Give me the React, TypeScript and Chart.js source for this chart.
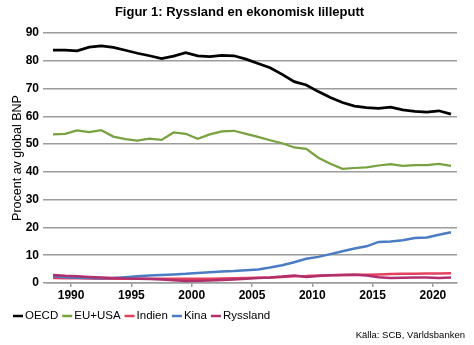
import React, { useEffect, useRef } from "react";
import { Chart, registerables } from "chart.js";

Chart.register(...registerables);

const FONT = "'Liberation Sans', Arial, Helvetica, sans-serif";

const TITLE = "Figur 1: Ryssland en ekonomisk lilleputt";
const Y_TITLE = "Procent av global BNP";
const SOURCE = "Källa: SCB, Världsbanken";

const years = [
  1988, 1989, 1990, 1991, 1992, 1993, 1994, 1995, 1996, 1997, 1998, 1999,
  2000, 2001, 2002, 2003, 2004, 2005, 2006, 2007, 2008, 2009, 2010, 2011,
  2012, 2013, 2014, 2015, 2016, 2017, 2018, 2019, 2020, 2021,
];

const oecd = [
  83.8, 83.8, 83.6, 84.9, 85.4, 84.8, 83.8, 82.7, 81.8, 80.8, 81.7, 82.9,
  81.8, 81.5, 81.9, 81.8, 80.6, 79.0, 77.5, 75.1, 72.5, 71.3, 68.9, 66.8,
  65.0, 63.7, 63.1, 62.9, 63.3, 62.3, 61.8, 61.5, 62.0, 60.8,
];

const euUsa = [
  53.5, 53.7, 54.9, 54.3, 55.0, 52.7, 51.8, 51.3, 52.0, 51.5, 54.2, 53.7,
  51.9, 53.5, 54.6, 54.8, 53.7, 52.6, 51.4, 50.3, 48.8, 48.3, 45.1, 42.9,
  41.1, 41.4, 41.6, 42.3, 42.8, 42.2, 42.4, 42.4, 42.9, 42.2,
];

const indien = [
  1.8, 1.7, 1.7, 1.6, 1.5, 1.5, 1.5, 1.5, 1.5, 1.5, 1.5, 1.5,
  1.5, 1.5, 1.6, 1.7, 1.8, 1.9, 2.0, 2.2, 2.4, 2.5, 2.7, 2.8,
  2.9, 3.0, 3.0, 3.1, 3.2, 3.3, 3.3, 3.4, 3.4, 3.5,
];

const kina = [
  2.4, 2.1, 1.9, 1.8, 1.7, 1.8, 2.1, 2.4, 2.7, 2.9, 3.1, 3.3,
  3.6, 3.9, 4.1, 4.3, 4.6, 4.9, 5.6, 6.4, 7.5, 8.7, 9.4, 10.4,
  11.4, 12.4, 13.2, 14.8, 14.9, 15.4, 16.2, 16.4, 17.4, 18.3,
];

const ryssland = [
  2.9, 2.6, 2.4, 2.2, 2.0, 1.8, 1.6, 1.5, 1.4, 1.3, 1.0, 0.7,
  0.8, 0.9, 1.1, 1.3, 1.5, 1.8, 2.0, 2.3, 2.7, 2.2, 2.5, 2.8,
  2.9, 3.0, 2.7, 2.1, 1.8, 1.9, 2.0, 2.0, 1.8, 2.0,
];

const xTickValues = [1990, 1995, 2000, 2005, 2010, 2015, 2020];

const seriesDefs = [
  { label: "OECD", values: oecd, color: "#000000", width: 2.75, order: 4 },
  { label: "EU+USA", values: euUsa, color: "#77a23f", width: 2.25, order: 3 },
  { label: "Indien", values: indien, color: "#e4415f", width: 2.5, order: 2 },
  { label: "Kina", values: kina, color: "#4a7bc3", width: 2.5, order: 1 },
  { label: "Ryssland", values: ryssland, color: "#b02f6c", width: 2.5, order: 0 },
];

const GRID = "#9c9c9c";

const overlayPlugin = {
  id: "overlayText",
  afterDraw(chart: any) {
    const ctx = chart.ctx as CanvasRenderingContext2D;
    ctx.save();
    // title
    ctx.fillStyle = "#000";
    ctx.font = `bold 13px ${FONT}`;
    ctx.textAlign = "center";
    ctx.textBaseline = "middle";
    ctx.fillText(TITLE, 239.5, 12);

    // legend
    ctx.font = `11.5px ${FONT}`;
    ctx.textAlign = "left";
    ctx.textBaseline = "middle";
    let x = 13;
    const y = 316;
    chart.data.datasets.forEach((ds: any) => {
      ctx.strokeStyle = ds.borderColor;
      ctx.lineWidth = 2.5;
      ctx.beginPath();
      ctx.moveTo(x, y);
      ctx.lineTo(x + 10, y);
      ctx.stroke();
      x += 12;
      ctx.fillStyle = "#000";
      ctx.fillText(ds.label, x, y);
      x += ctx.measureText(ds.label).width + 4;
    });

    // source
    ctx.font = `9.5px ${FONT}`;
    ctx.textAlign = "right";
    ctx.fillStyle = "#000";
    ctx.fillText(SOURCE, 465, 335);
    ctx.restore();
  },
};

export default function App() {
  const canvasRef = useRef<HTMLCanvasElement | null>(null);

  useEffect(() => {
    document.body.style.margin = "0";
    const canvas = canvasRef.current;
    if (!canvas) return;

    const datasets = seriesDefs.map((s) => ({
      label: s.label,
      data: years.map((yr, i) => ({ x: yr + 0.5, y: s.values[i] })),
      borderColor: s.color,
      backgroundColor: s.color,
      borderWidth: s.width,
      pointRadius: 0,
      pointHoverRadius: 0,
      tension: 0,
      fill: false,
      order: s.order,
    }));

    const chart = new Chart(canvas, {
      type: "line",
      data: { datasets },
      plugins: [overlayPlugin],
      options: {
        animation: false,
        responsive: false,
        maintainAspectRatio: false,
        layout: { padding: { top: 33, right: 17, bottom: 38, left: 0 } },
        plugins: {
          legend: { display: false },
          title: { display: false },
          tooltip: { enabled: false },
        },
        scales: {
          x: {
            type: "linear",
            min: 1988,
            max: 2022,
            afterBuildTicks: (scale: any) => {
              scale.ticks = xTickValues.map((v) => ({ value: v }));
            },
            afterFit: (scale: any) => {
              scale.height = 24;
            },
            grid: {
              drawOnChartArea: false,
              drawTicks: true,
              tickLength: 4,
              color: GRID,
              lineWidth: 1.5,
            },
            border: { display: true, color: GRID, width: 1.5 },
            ticks: {
              padding: 1,
              color: "#000",
              font: { family: FONT, size: 12, weight: "bold" },
              maxRotation: 0,
              autoSkip: false,
              callback: (v: any) => String(v),
            },
          },
          y: {
            min: 0,
            max: 90,
            afterFit: (scale: any) => {
              scale.width = 47;
            },
            grid: {
              color: GRID,
              lineWidth: 1.5,
              tickLength: 4,
              drawTicks: true,
            },
            border: { display: false },
            ticks: {
              stepSize: 10,
              padding: 4,
              color: "#000",
              font: { family: FONT, size: 12, weight: "bold" },
            },
            title: {
              display: true,
              text: Y_TITLE,
              color: "#000",
              padding: { top: 10, bottom: 0 },
              font: { family: FONT, size: 12.5, weight: "normal" },
            },
          },
        },
      },
    } as any);

    return () => {
      chart.destroy();
    };
  }, []);

  return (
    <div style={{ width: 474, height: 345, background: "#fff" }}>
      <canvas ref={canvasRef} width={474} height={345} style={{ display: "block" }} />
    </div>
  );
}
